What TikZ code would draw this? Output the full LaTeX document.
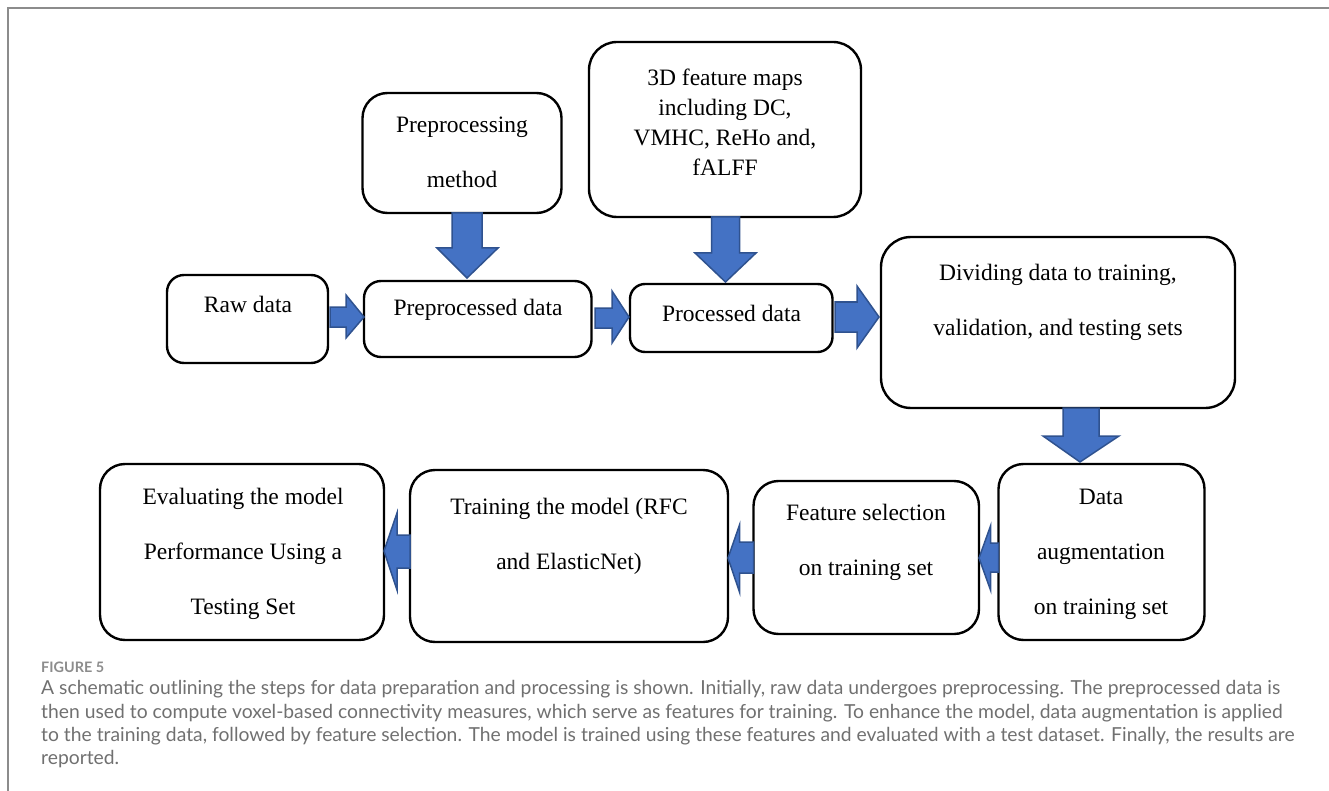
\documentclass[tikz,border=0pt]{standalone}
\usepackage{fontspec}
\setmainfont{Liberation Serif}
\newfontfamily\capfont{Lato}
\usetikzlibrary{positioning}
\definecolor{arrowblue}{HTML}{4472C4}
\definecolor{arrowedge}{HTML}{2F528F}
\definecolor{capgray}{HTML}{707070}
\definecolor{framegray}{HTML}{8C8C8C}
\tikzset{
  stepbox/.style={draw=black, line width=2.4pt, rounded corners=25pt},
  smallbox/.style={draw=black, line width=2.4pt, rounded corners=17pt},
  boxtext/.style={align=center, inner sep=0pt, font=\fontsize{23.5}{55}\selectfont},
  blockarrow/.style={fill=arrowblue, draw=arrowedge, line width=1.5pt, line join=miter},
  captext/.style={anchor=west, inner sep=0pt, text=capgray, font=\capfont\fontsize{19.3}{22}\selectfont},
}
\begin{document}
\begin{tikzpicture}[x=1pt, y=-1pt]
\useasboundingbox (0,0) rectangle (1329,791);
% frame
\draw[framegray, line width=2pt] (8,791) -- (8,8) -- (1329,8);

% boxes
\draw[smallbox] (167,275) rectangle (328,363);
\node[boxtext] (raw) at (248,304) {Raw data};

\draw[stepbox] (362.5,93) rectangle (561.5,213);
\node[boxtext] (pmeth) at (462,152) {Preprocessing\\method};

\draw[smallbox] (364,281) rectangle (591.5,357);
\node[boxtext] (prep) at (478,310) {Preprocessed data};

\draw[stepbox, rounded corners=28pt] (589,42) rectangle (861,217);
\node[boxtext, font=\fontsize{23.5}{30}\selectfont] (d3) at (725,122) {3D feature maps\\including DC,\\VMHC, ReHo and,\\fALFF};

\draw[smallbox, rounded corners=15pt] (630,284) rectangle (832.5,352);
\node[boxtext] (proc) at (731.5,313) {Processed data};

\draw[stepbox, rounded corners=30pt] (881,237) rectangle (1235,408);
\node[boxtext] (div) at (1058,302) {Dividing data to training,\\validation, and testing sets};

\draw[stepbox] (998.5,464) rectangle (1204.5,640);
\node[boxtext] (aug) at (1101,554) {Data\\augmentation\\on training set};

\draw[stepbox] (753.5,481) rectangle (979,634);
\node[boxtext] (feat) at (866,542) {Feature selection\\on training set};

\draw[stepbox] (410,470) rectangle (728,642);
\node[boxtext] (train) at (569,536) {Training the model (RFC\\and ElasticNet)};

\draw[stepbox] (100,464) rectangle (384,640);
\node[boxtext] (eval) at (243,554) {Evaluating the model\\Performance Using a\\Testing Set};

% block arrows (right)
\draw[blockarrow] (330,307) -- (346,307) -- (346,295) -- (364,317) -- (346,338) -- (346,327) -- (330,327) -- cycle;
\draw[blockarrow] (595,308) -- (612,308) -- (612,291) -- (629,317) -- (612,343) -- (612,328) -- (595,328) -- cycle;
\draw[blockarrow] (835,302) -- (857,302) -- (857,286) -- (879,317) -- (857,348) -- (857,332) -- (835,332) -- cycle;
% block arrows (down)
\draw[blockarrow] (452,213) -- (482,213) -- (482,248) -- (498,248) -- (467,278) -- (437,248) -- (452,248) -- cycle;
\draw[blockarrow] (711.5,217) -- (739.5,217) -- (739.5,253) -- (756,253) -- (725.5,282) -- (695,253) -- (711.5,253) -- cycle;
\draw[blockarrow] (1063,408) -- (1099,408) -- (1099,436) -- (1119,436) -- (1080,462) -- (1043,436) -- (1063,436) -- cycle;
% block arrows (left)
\draw[blockarrow] (998.5,543) -- (990.5,543) -- (990.5,526) -- (979,558) -- (990.5,590) -- (990.5,572) -- (998.5,572) -- cycle;
\draw[blockarrow] (753.5,542) -- (739.5,542) -- (739.5,525) -- (728,558) -- (739.5,592) -- (739.5,573) -- (753.5,573) -- cycle;
\draw[blockarrow] (410,535) -- (397,535) -- (397,513) -- (384,551) -- (397,590) -- (397,568) -- (410,568) -- cycle;

% caption
\node[captext, font=\capfont\bfseries\fontsize{14.4}{16}\selectfont, text=framegray] (figlabel) at (41,667) {FIGURE 5};
\node[captext] (cap1) at (41,689) {A schematic outlining the steps for data preparation and processing is shown. Initially, raw data undergoes preprocessing. The preprocessed data is};
\node[captext] (cap2) at (41,713) {then used to compute voxel-based connectivity measures, which serve as features for training. To enhance the model, data augmentation is applied};
\node[captext] (cap3) at (41,736) {to the training data, followed by feature selection. The model is trained using these features and evaluated with a test dataset. Finally, the results are};
\node[captext] (cap4) at (41,759) {reported.};
\end{tikzpicture}
\end{document}
